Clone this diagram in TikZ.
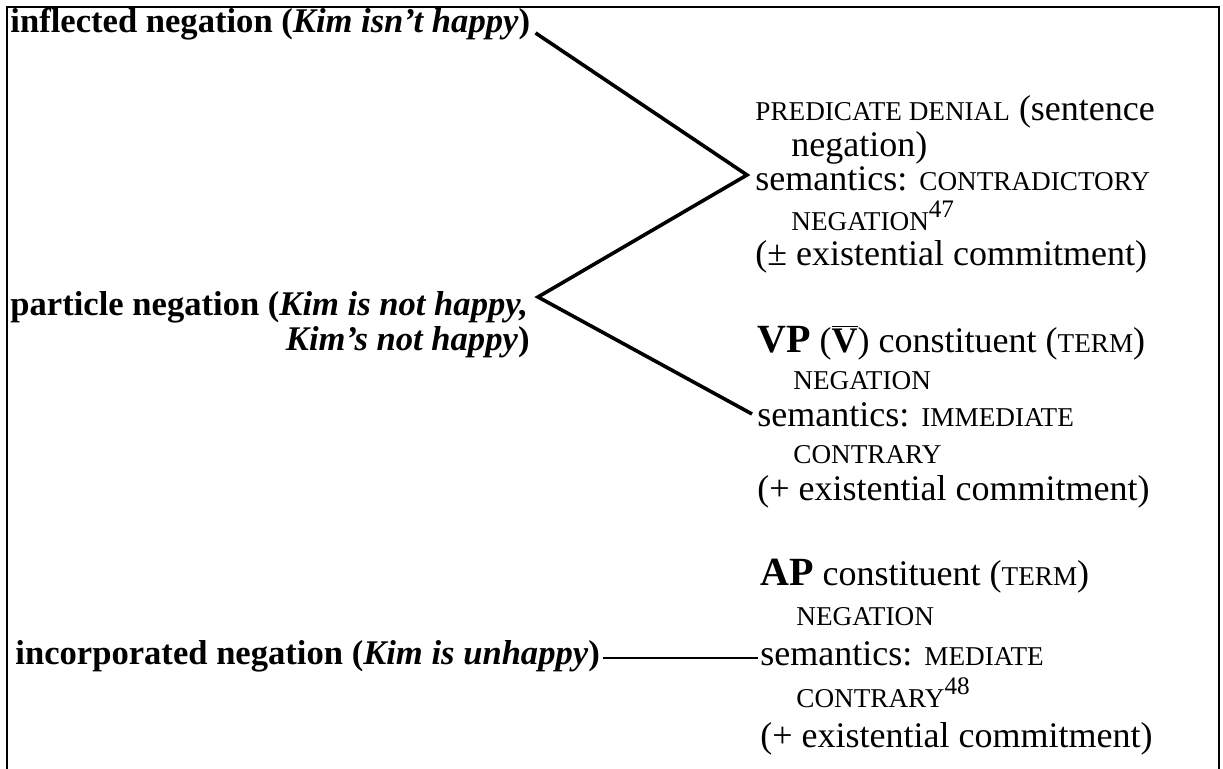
\documentclass[tikz,border=0pt]{standalone}
\usepackage{fontspec}
\setmainfont{Liberation Serif}
\usetikzlibrary{positioning}

\newcommand{\smc}[1]{{\fontsize{13.6pt}{17pt}\selectfont #1}}
\newcommand{\vbar}{\ensuremath{\overline{\mbox{\textbf{V}}}}}

\tikzset{
  leftlabel/.style={inner sep=0pt, font=\fontsize{17.3pt}{18pt}\selectfont\bfseries},
  rightblock/.style={inner sep=0pt, anchor=base west, font=\fontsize{18pt}{#1}\selectfont},
  branch/.style={line width=1.8pt, line join=miter}
}

\begin{document}
\begin{tikzpicture}[x=0.5pt,y=-0.5pt]
    \path[use as bounding box, fill=white] (0,0) rectangle (1223,769);
    % frame, open at the bottom
    \draw[line width=1.2pt] (7,769) -- (7,7) -- (1219,7) -- (1219,769);

    % left column
    \node[leftlabel, anchor=base west] (infl) at (10,33)
        {inflected negation (\textit{Kim isn’t happy})};
    \node[leftlabel, anchor=base west] (part) at (10,316)
        {particle negation (\textit{Kim is not happy,}};
    \node[leftlabel, anchor=base east] (partb) at (530,351)
        {\textit{Kim’s not happy})};
    \node[leftlabel, anchor=base west] (incorp) at (15,665)
        {incorporated negation (\textit{Kim is unhappy})};

    % right column
    \node[rightblock=17.25pt] (pd) at (755,121) {\begin{tabular}[t]{@{}l@{}}
        \smc{PREDICATE DENIAL} (sentence\\
        \hspace*{1em}negation)\\
        semantics: \smc{CONTRADICTORY}\\
        \hspace*{1em}\smc{NEGATION}\textsuperscript{47}\\
        (\textpm\ existential commitment)
    \end{tabular}};
    \node[rightblock=18.5pt] (vp) at (757,353) {\begin{tabular}[t]{@{}l@{}}
        {\fontsize{20pt}{18pt}\selectfont\bfseries VP} (\vbar) constituent (\smc{TERM})\\
        \hspace*{1em}\smc{NEGATION}\\
        semantics: \smc{IMMEDIATE}\\
        \hspace*{1em}\smc{CONTRARY}\\
        (+ existential commitment)
    \end{tabular}};
    \node[rightblock=20pt] (ap) at (760,586) {\begin{tabular}[t]{@{}l@{}}
        {\fontsize{20pt}{18pt}\selectfont\bfseries AP} constituent (\smc{TERM})\\
        \hspace*{1em}\smc{NEGATION}\\
        semantics: \smc{MEDIATE}\\
        \hspace*{1em}\smc{CONTRARY}\textsuperscript{48}\\
        (+ existential commitment)
    \end{tabular}};

    % branch points
    \coordinate (pdv) at (747,175);
    \coordinate (partv) at (538,297);
    \coordinate (vpv) at (752,414);
    \coordinate (apv) at (758,658);

    \draw[branch] (infl.base east) ++(5,0) -- (pdv) -- (partv) -- (vpv);
    \draw[line width=1.2pt] (incorp.base east) ++(3,-7) -- (apv);
\end{tikzpicture}
\end{document}
